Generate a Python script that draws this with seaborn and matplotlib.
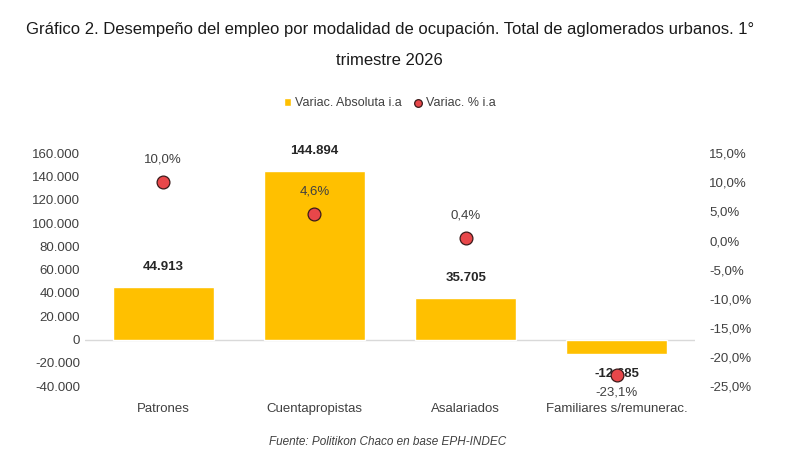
import pandas as pd
import matplotlib.pyplot as plt
import seaborn as sns
from matplotlib import font_manager

# Datos del grafico
categorias = ['Patrones', 'Cuentapropistas', 'Asalariados', 'Familiares s/remunerac.']
var_absoluta = [44913, 144894, 35705, -12685]
var_pct = [10.0, 4.6, 0.4, -23.1]

titulo = 'Gráfico 2. Desempeño del empleo por modalidad de ocupación. Total de aglomerados urbanos. 1°\ntrimestre 2026'
fuente = 'Fuente: Politikon Chaco en base EPH-INDEC'

sns.set_style('white')
nombres = {f.name for f in font_manager.fontManager.ttflist}
narrow = 'Liberation Sans Narrow' if 'Liberation Sans Narrow' in nombres else 'Liberation Sans'
plt.rcParams['font.family'] = ['Liberation Sans', 'DejaVu Sans']

color_barra = '#FFC000'
color_punto = '#E8474A'
gris = '#404040'

df = pd.DataFrame({'categoria': categorias, 'abs': var_absoluta, 'pct': var_pct})

fig = plt.figure(figsize=(8, 4.71), dpi=100)
ax = fig.add_axes([0.106, 0.180, 0.763, 0.495])

sns.barplot(data=df, x='categoria', y='abs', color=color_barra, width=0.67,
            ax=ax, saturation=1, label='Variac. Absoluta i.a')
ax.set_ylim(-40000, 160000)
ax.set_yticks(range(-40000, 160001, 20000))
ax.set_yticklabels([f'{v:,}'.replace(',', '.') for v in range(-40000, 160001, 20000)])
ax.axhline(0, color='#d9d9d9', lw=1, zorder=0)
ax.set_xlabel('')
ax.set_ylabel('')
ax.tick_params(axis='both', length=0, colors=gris, labelsize=9.5)
ax.tick_params(axis='x', pad=12)
for s in ax.spines.values():
    s.set_visible(False)

# Etiquetas de barras
for i, v in enumerate(var_absoluta):
    txt = f'{v:,}'.replace(',', '.')
    off = 10 if v >= 0 else -10
    ax.annotate(txt, (i, v), xytext=(0, off), textcoords='offset points',
                ha='center', va='bottom' if v >= 0 else 'top',
                fontsize=9.5, fontweight='bold', color='#262626')

ax2 = ax.twinx()
sns.scatterplot(data=df, x='categoria', y='pct', ax=ax2, s=85, color=color_punto,
                edgecolor='#3a1a1a', linewidth=0.9, zorder=5, label='Variac. % i.a')
ax2.set_ylim(-25, 15)
ax2.set_yticks(range(-25, 16, 5))
ax2.set_yticklabels([f'{v:.1f}%'.replace('.', ',') for v in range(-25, 16, 5)])
ax2.set_ylabel('')
ax2.tick_params(axis='y', length=0, colors=gris, labelsize=9.5, pad=10)
for s in ax2.spines.values():
    s.set_visible(False)

for i, v in enumerate(var_pct):
    txt = f'{v:.1f}%'.replace('.', ',')
    off = 12 if v >= 0 else -8
    ax2.annotate(txt, (i, v), xytext=(0, off), textcoords='offset points',
                 ha='center', va='bottom' if v >= 0 else 'top',
                 fontsize=9.5, color=gris)

# Leyenda
h1, l1 = ax.get_legend_handles_labels()
h2, l2 = ax2.get_legend_handles_labels()
if ax.get_legend() is not None:
    ax.get_legend().remove()
if ax2.get_legend() is not None:
    ax2.get_legend().remove()
fig.legend(h1 + h2, l1 + l2, loc='center', bbox_to_anchor=(0.487, 0.781), ncol=2,
           frameon=False, handlelength=0.6, handleheight=0.6, markerscale=0.6,
           handletextpad=0.3, columnspacing=1.0, labelcolor=gris,
           prop={'family': narrow, 'size': 9})

fig.text(0.487, 0.905, titulo, ha='center', va='center', fontsize=12,
         family=narrow, color='#1a1a1a', linespacing=2.3)
fig.text(0.484, 0.061, fuente, ha='center', va='center', fontsize=8.5,
         style='italic', color=gris)

plt.savefig('out.png', dpi=100)
